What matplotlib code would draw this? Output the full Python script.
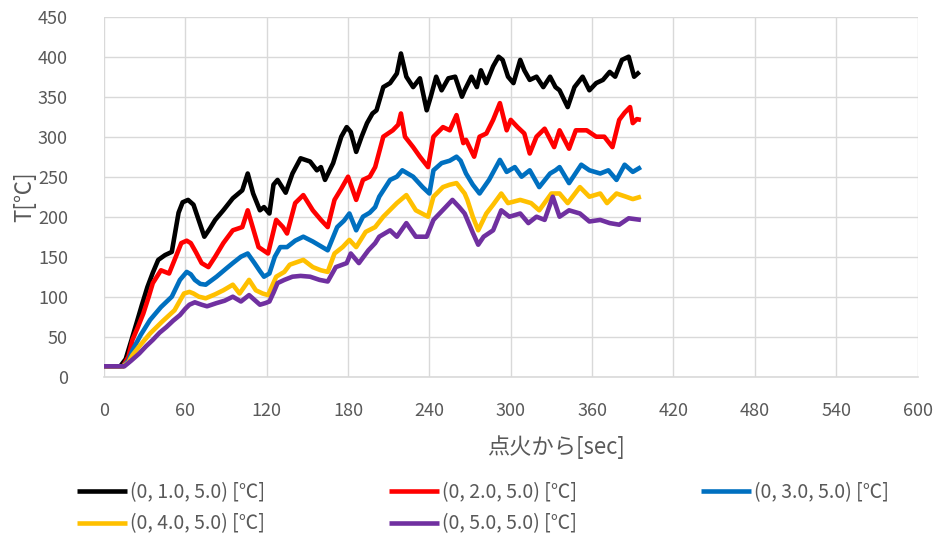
import numpy as np
import matplotlib
matplotlib.use("Agg")
import matplotlib.pyplot as plt

plt.rcParams['font.family'] = ['Noto Sans CJK JP', 'DejaVu Sans']

'''
    Data read off the reference chart (time [sec], temperature [C])
'''

t_black = [0, 12, 16, 21, 24, 28, 32, 36, 40, 45, 50, 55, 58, 62, 66, 70, 74, 78, 82, 88,
           95, 102, 106, 110, 115, 118, 122, 125, 128, 131, 134, 139, 145, 152, 157, 160, 163, 169, 175, 179,
           182, 186, 190, 194, 198, 201, 206, 211, 216, 219, 223, 228, 233, 238, 241, 245, 249, 254, 259, 264,
           266, 271, 275, 278, 282, 287, 291, 294, 298, 302, 307, 310, 314, 319, 324, 329, 333, 336, 342, 347,
           353, 358, 363, 368, 373, 377, 382, 387, 391, 395]
T_black = [13, 13, 22, 50, 67, 90, 112, 130, 146, 152, 156, 205, 218, 221, 215, 195, 175, 185, 196, 208,
           223, 233, 254, 229, 208, 212, 204, 240, 246, 238, 230, 254, 273, 269, 258, 262, 246, 267, 300, 312,
           306, 281, 300, 317, 329, 333, 362, 367, 379, 404, 375, 362, 373, 333, 350, 375, 358, 373, 375, 350,
           358, 375, 362, 383, 367, 388, 400, 396, 375, 367, 396, 383, 371, 375, 362, 375, 362, 358, 337, 362,
           375, 358, 367, 371, 381, 375, 396, 400, 375, 381]

t_red = [0, 14, 18, 21, 25, 29, 33, 36, 42, 48, 53, 57, 61, 64, 68, 72, 77, 82, 88, 95,
         102, 106, 110, 114, 121, 124, 127, 132, 135, 141, 147, 154, 160, 165, 170, 175, 180, 186, 191, 196,
         200, 206, 213, 217, 219, 222, 228, 233, 239, 243, 250, 255, 260, 265, 267, 273, 277, 282, 287, 292,
         297, 300, 305, 310, 314, 319, 325, 332, 336, 343, 348, 356, 363, 369, 375, 380, 384, 388, 390, 393,
         396]
T_red = [13, 13, 25, 46, 62, 79, 100, 117, 133, 129, 150, 167, 170, 167, 155, 142, 137, 150, 167, 183,
         187, 208, 185, 162, 154, 175, 196, 187, 179, 217, 227, 208, 196, 187, 221, 235, 250, 221, 246, 250,
         262, 300, 308, 315, 329, 300, 287, 275, 262, 300, 312, 308, 327, 292, 296, 275, 300, 304, 321, 342,
         308, 321, 312, 304, 279, 300, 310, 287, 308, 285, 308, 308, 300, 300, 287, 321, 330, 337, 317, 322,
         321]

t_blue = [0, 14, 18, 21, 27, 34, 42, 50, 56, 61, 64, 67, 71, 75, 83, 90, 95, 101, 106, 111,
          115, 118, 122, 126, 130, 135, 141, 147, 154, 160, 165, 172, 177, 181, 186, 191, 196, 200, 203, 211,
          216, 220, 228, 235, 240, 243, 249, 255, 260, 263, 267, 272, 277, 284, 292, 297, 303, 308, 314, 321,
          329, 333, 336, 343, 352, 358, 366, 372, 378, 384, 390, 396]
T_blue = [13, 13, 20, 33, 52, 71, 87, 100, 121, 131, 128, 121, 116, 115, 125, 135, 142, 150, 154, 142,
          132, 125, 129, 150, 162, 162, 170, 175, 169, 163, 158, 187, 195, 204, 183, 200, 205, 212, 225, 246,
          250, 258, 250, 237, 229, 258, 267, 270, 275, 270, 254, 240, 229, 246, 271, 256, 262, 250, 258, 237,
          254, 258, 262, 242, 265, 258, 254, 258, 246, 265, 256, 262]

t_yellow = [0, 14, 18, 21, 27, 34, 43, 52, 59, 63, 66, 70, 75, 82, 88, 95, 100, 107, 112, 117,
            121, 127, 133, 137, 147, 154, 160, 165, 170, 176, 181, 186, 193, 200, 206, 216, 223, 230, 239, 243,
            250, 255, 260, 266, 268, 272, 276, 282, 287, 293, 298, 307, 315, 321, 330, 336, 342, 351, 358, 366,
            371, 378, 385, 390, 396]
T_yellow = [13, 13, 18, 27, 40, 54, 69, 83, 104, 106, 104, 100, 98, 103, 108, 115, 104, 121, 108, 104,
            102, 125, 131, 140, 146, 137, 133, 131, 154, 162, 171, 162, 181, 187, 200, 217, 227, 208, 200, 225,
            237, 240, 242, 229, 221, 200, 183, 204, 215, 229, 217, 221, 217, 208, 229, 229, 217, 237, 225, 229,
            217, 229, 225, 222, 225]

t_purple = [0, 15, 20, 26, 31, 36, 41, 46, 51, 56, 60, 63, 67, 72, 76, 83, 89, 95, 101, 107,
            111, 115, 119, 122, 125, 128, 133, 139, 145, 152, 159, 165, 171, 179, 182, 188, 195, 200, 203, 211,
            216, 223, 230, 238, 243, 252, 257, 262, 266, 268, 272, 276, 280, 287, 293, 299, 307, 313, 319, 325,
            331, 336, 343, 351, 358, 366, 373, 380, 387, 396]
T_purple = [13, 13, 20, 29, 38, 46, 55, 62, 70, 77, 85, 90, 93, 90, 88, 92, 95, 100, 94, 102,
            96, 90, 92, 94, 105, 117, 121, 125, 126, 125, 121, 119, 137, 142, 154, 142, 158, 167, 175, 183,
            175, 192, 175, 175, 196, 212, 221, 212, 204, 196, 180, 165, 175, 183, 208, 200, 204, 192, 200, 196,
            225, 200, 208, 204, 194, 196, 192, 190, 198, 196]

series_labels = ['(0, 1.0, 5.0) [℃]', '(0, 2.0, 5.0) [℃]', '(0, 3.0, 5.0) [℃]',
                 '(0, 4.0, 5.0) [℃]', '(0, 5.0, 5.0) [℃]']
series_colors = ['#000000', '#FF0000', '#0070C0', '#FFC000', '#7030A0']

x_ticks = np.arange(0, 601, 60)
y_ticks = np.arange(0, 451, 50)

'''
    Plot
'''

txt_color = '#595959'
grid_color = '#D9D9D9'

fig = plt.figure(figsize=(9.42, 5.45), dpi=100)
ax = fig.add_axes([104 / 942, 1 - 376.7 / 545, 813.5 / 942, 360 / 545])

all_t = [t_black, t_red, t_blue, t_yellow, t_purple]
all_T = [T_black, T_red, T_blue, T_yellow, T_purple]

lines = []
for tt, TT, lab, col in zip(all_t, all_T, series_labels, series_colors):
    ln, = ax.plot(tt, TT, color=col, lw=3.3, label=lab,
                  solid_joinstyle='round', solid_capstyle='butt')
    lines.append(ln)

ax.set_xlim(0, 600)
ax.set_ylim(0, 450)
ax.set_xticks(x_ticks)
ax.set_yticks(y_ticks)
ax.grid(True, color=grid_color, lw=1.0)
ax.set_axisbelow(True)
for s in ['top', 'right', 'left']:
    ax.spines[s].set_visible(False)
ax.spines['bottom'].set_color(grid_color)
ax.spines['bottom'].set_linewidth(1.2)

ax.tick_params(axis='both', length=0, labelsize=13, labelcolor=txt_color)
ax.tick_params(axis='x', pad=18)
ax.tick_params(axis='y', pad=26)

ax.set_xlabel('点火から[sec]', fontsize=16, color=txt_color)
ax.set_ylabel('T[℃]', fontsize=16, color=txt_color)
ax.xaxis.label.set_va('center')
ax.yaxis.label.set_va('center')
ax.xaxis.set_label_coords(0.556, -0.195)
ax.yaxis.set_label_coords(-0.098, 0.5)

# legend is filled column by column, so reorder to get rows like the reference
leg_order = [0, 3, 1, 4, 2]
leg = fig.legend(handles=[lines[i] for i in leg_order], loc='upper left', ncol=3, frameon=False,
                 bbox_to_anchor=(67 / 942, 1 - 472 / 545), fontsize=14,
                 handlelength=2.6, handletextpad=0.15, columnspacing=6.35,
                 labelspacing=0.55, borderpad=0)
for txt in leg.get_texts():
    txt.set_color(txt_color)

plt.savefig('out.png', dpi=100)
